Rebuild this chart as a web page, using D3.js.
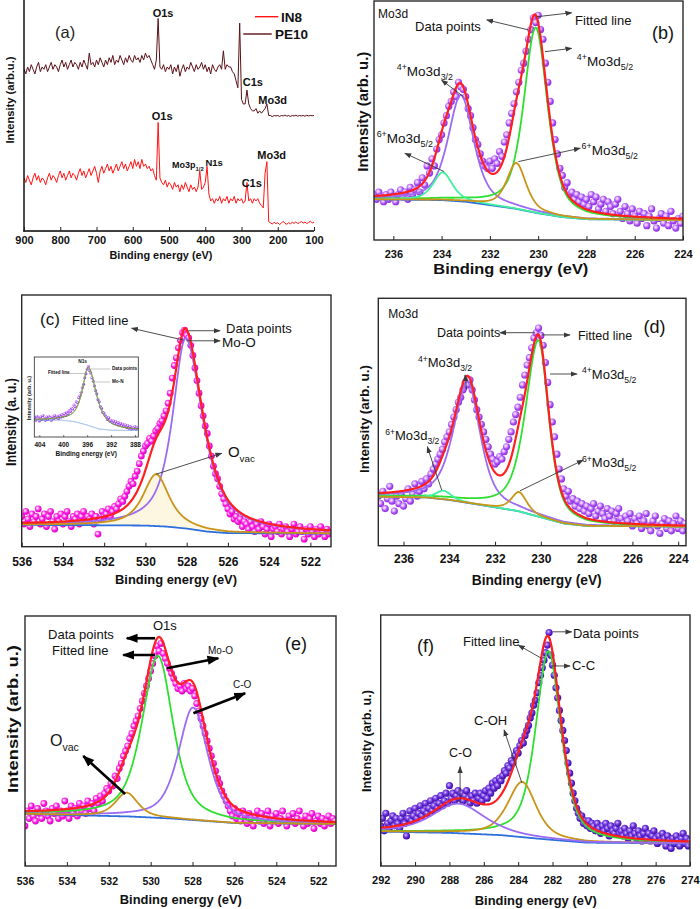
<!DOCTYPE html>
<html><head><meta charset="utf-8">
<script src="https://cdn.jsdelivr.net/npm/d3@7"></script>
<style>body{margin:0;background:#fff}svg{display:block}</style>
</head><body>
<svg id="chart" width="700" height="909"></svg>
<script>
// ================= DATA =================
// (a) survey spectra, intensity as % of panel height, every 5 eV from 900 eV
const surveyTicks = [900, 800, 700, 600, 500, 400, 300, 200, 100];
const surveyStart = 900, surveyStep = -5;
const surveyIN8 = [
  23,21,24,22,20,23,25,22,24,21,
  23,22,20,23,25,22,24,23,21,24,
  26,23,25,22,24,26,23,25,24,22,
  25,27,24,26,23,25,27,24,26,28,
  25,21,26,28,25,27,29,26,28,25,
  27,29,26,28,30,27,29,26,28,30,
  27,31,28,30,27,31,28,29,27,28,
  26,27,24,22,47,23,21,20,22,19,
  21,20,18,21,19,20,17,20,18,21,
  19,17,20,18,19,17,19,26,18,19,
  21,28,16,13,14,12,14,13,15,12,
  14,13,15,12,14,13,15,12,14,13,
  14,12,13,21,13,14,12,14,13,14,
  12,11,10,25,30,4,3.5,3,3.8,3.2,
  3.6,2.8,3.4,4.2,3.3,2.9,3.6,3.1,3.8,3.3,
  4,3.2,3.6,4.1,3.4,3.9,3.2,3.7,4.2,3.5,
  3.8];
const surveyPE10 = [
  70,68,71,69,72,70,68,71,73,69,
  71,70,72,69,71,73,70,72,71,69,
  72,74,71,73,70,72,74,71,73,72,
  70,73,71,74,72,70,77,72,73,71,
  74,72,75,73,71,74,72,75,73,76,
  72,74,73,76,74,72,75,73,76,74,
  73,76,74,75,73,76,74,77,75,76,
  74,72,70,74,92,71,70,72,69,71,
  70,72,68,71,69,72,67,70,72,69,
  71,70,73,71,69,72,70,71,73,70,
  72,69,71,68,72,70,69,71,72,70,
  78,70,72,71,71,69,68,65,62,90,
  57,55,55,61,55,53,52,52,53,51,
  52,51,52,53,55,50,50,49.5,50,49.8,
  50,49.6,50,49.8,50.2,49.7,50,49.6,50,49.8,
  50.1,49.7,50,49.8,50,49.7,50.1,49.8,50,49.9,
  50];

// (b) Mo3d
const bStart = 236.8, bStep = -0.1;
const bPoints = [
  19,17,20,18,16,19,17,20,18,16,
  19,21,18,20,17,22,19,21,24,20,
  26,23,31,28,34,31,38,42,44,49,
  52,56,58,62,60,66,64,63,60,55,
  52,47,42,40,36,33,31,30,33,30,
  34,32,37,35,41,44,49,53,57,62,
  66,71,74,79,84,88,93,91,94,88,
  84,74,66,58,49,42,36,30,27,22,
  24,19,20,17,19,16,18,15,17,14,
  19,16,18,13,15,17,12,16,14,11,
  15,17,12,9,14,11,8,13,10,7,
  12,9,11,6,10,13,8,5,9,11,
  7,10,6,12,8,5,9,7,10];
const bTicks = [236, 234, 232, 230, 228, 226, 224];
const bCenters = [233.2, 230.1, 233.95, 230.9];
const bHeights = [44.5, 77.5, 11.6, 19.2];
const bWidthHigh = [1.25, 1.17, 0.95, 0.95];
const bWidthLow = [1.25, 1.17, 0.95, 0.95];
const bBaseE = [236.8, 234, 233, 232, 231, 230, 229, 228, 224];
const bBaseY = [17, 16.7, 16, 14.6, 13.2, 11.2, 9.6, 8.7, 8.3];

// (c) O1s
const cStart = 536, cStep = -0.1;
const cPoints = [
  12,9,14,11,8,13,10,12,15,9,
  11,13,8,12,14,10,7,12,10,13,
  9,12,14,10,8,12,11,13,9,12,
  14,10,12,11,13,9,12,5,11,14,
  12,13,15,12,14,16,15,17,19,18,
  20,22,24,26,25,28,30,33,36,38,
  40,41,43,42,44,46,47,49,50,52,
  54,57,61,67,72,75,79,82,85,86,
  84,83,80,76,71,66,61,56,52,48,
  45,40,36,32,29,27,24,21,19,17,
  15,13,14,11,12,10,11,8,10,9,
  7,10,8,6,9,7,10,8,5,7,
  9,4,7,8,6,9,5,7,8,6,
  4,7,9,5,6,8,6,3,7,5,
  8,6,4,7,5,8,6,4,7,5,
  6];
const cTicks = [536, 534, 532, 530, 528, 526, 524, 522];
const cCenters = [528.05, 529.48];
const cHeights = [75.6, 20.6];
const cWidthHigh = [1.5, 1.5];
const cWidthLow = [2.0, 1.5];
const cBaseE = [536, 530, 529, 528, 527, 526, 521];
const cBaseY = [8.7, 8.4, 8.0, 7.2, 6.0, 5.4, 5.2];

// (c) inset N1s
const nStart = 404.8, nStep = -0.2;
const nPoints = [
  24,21,26,23,20,25,22,27,23,21,
  25,22,26,24,21,25,23,27,24,26,
  23,27,25,28,26,29,27,31,29,33,
  32,36,35,40,38,44,43,49,52,56,
  62,66,74,79,85,88,83,80,74,70,
  64,58,54,47,44,38,36,31,30,27,
  25,22,24,20,21,18,20,17,19,16,
  18,15,17,14,16,13,15,12,14,11,
  13,10,12,11,13,10,12];
const nTicks = [404, 400, 396, 392, 388];
const nCenters = [395.8];
const nHeights = [72.5];
const nWidthHigh = [2.4];
const nWidthLow = [3.2];
const nBaseE = [404.84, 400, 398, 396, 394, 392, 387.45];
const nBaseY = [21, 21, 19, 15, 10, 8.5, 8];

// (d) Mo3d
const dStart = 237.1, dStep = -0.1;
const dPoints = [
  20,17,22,15,19,24,18,14,20,17,
  21,16,19,23,18,21,25,20,22,26,
  23,27,25,29,31,33,35,37,39,42,
  44,46,49,52,55,58,60,63,66,65,
  67,63,59,55,52,49,46,43,40,37,
  35,33,34,36,35,38,40,43,46,50,
  53,56,60,65,69,73,76,80,84,86,
  88,85,81,74,66,57,50,44,37,31,
  27,23,20,22,18,19,16,18,15,17,
  14,16,13,15,17,12,14,16,13,11,
  15,12,14,10,13,15,11,9,12,10,
  13,8,11,9,12,7,10,13,8,6,
  10,12,8,5,9,11,7,10,6,9,
  12,7,10,6,9];
const dTicks = [236, 234, 232, 230, 228, 226, 224];
const dCenters = [233.2, 230.1, 234.25, 230.95];
const dHeights = [49, 71.35, 3.5, 7.8];
const dWidthHigh = [1.45, 1.35, 0.8, 0.8];
const dWidthLow = [1.3, 1.05, 0.8, 0.8];
const dBaseE = [237.1, 235, 234, 233, 232, 231, 230, 229, 228, 223.66];
const dBaseY = [19.8, 19.5, 18.5, 17, 15.5, 14, 11.5, 9, 8, 7.7];

// (e) O1s
const eStart = 536, eStep = -0.1;
const ePoints = [
  16,22,19,24,20,18,23,21,19,25,
  22,20,18,23,21,24,19,22,20,26,
  22,19,24,21,23,20,25,22,24,21,
  26,23,25,22,27,25,28,26,29,31,
  30,33,32,36,35,39,41,44,46,48,
  51,53,56,58,60,63,66,69,72,75,
  78,81,84,88,86,89,85,83,81,79,
  77,75,73,71,72,70,73,71,72,70,
  71,68,65,62,59,56,53,50,47,44,
  41,38,35,33,30,28,26,24,22,20,
  23,19,21,18,22,20,17,21,19,16,
  20,22,18,21,17,19,22,16,20,18,
  21,17,19,22,18,16,20,18,21,17,
  19,22,18,16,20,17,19,21,15,18,
  20,17,19,16,18,20,17,19,18];
const eTicks = [536, 534, 532, 530, 528, 526, 524, 522];
const eCenters = [529.65, 527.97, 531.15];
const eHeights = [64.8, 45, 9.5];
const eWidthHigh = [1.8, 1.67, 1.27];
const eWidthLow = [1.7, 1.67, 1.27];
const eBaseE = [536, 531, 529, 527, 526, 521.15];
const eBaseY = [20.8, 19.8, 19, 17.8, 17.2, 16.8];

// (f) C1s
const fStart = 292, fStep = -0.1;
const fPoints = [
  16,19,14,21,17,15,18,20,16,19,
  17,15,19,21,17,12,19,22,18,20,
  23,19,21,24,20,22,25,21,23,26,
  22,24,27,23,25,28,24,26,29,25,
  32,27,29,26,28,30,27,29,26,28,
  30,27,25,28,26,29,25,27,29,26,
  28,30,27,31,29,33,31,34,32,35,
  34,36,38,37,40,39,42,41,44,46,
  45,48,50,49,52,54,56,59,61,64,
  66,69,73,76,79,82,85,88,93,84,
  80,76,71,67,62,58,54,50,46,41,
  37,33,29,26,23,21,19,20,17,18,
  16,18,15,17,16,14,17,15,13,16,
  14,17,15,12,16,14,13,15,17,13,
  14,12,15,13,11,14,12,16,13,11,
  14,12,10,13,15,11,13,10,12,14,
  11,9,12,10,13,11,8,12,10,7,
  11,9,12,10,8,11,13,9,11,8,
  10];
const fTicks = [292, 290, 288, 286, 284, 282, 280, 278, 276, 274];
const fCenters = [282.24, 283.76, 287.48];
const fHeights = [75, 22, 11.8];
const fWidthHigh = [1.75, 2.0, 3.6];
const fWidthLow = [1.75, 1.9, 3.6];
const fBaseE = [292, 288, 285, 283, 282, 280, 274];
const fBaseY = [13.7, 13.2, 12.3, 11, 10.4, 9.3, 9];

// ================= STYLE =================
const FONT = '"Liberation Sans", Arial, Helvetica, sans-serif';
const COL = { red: '#ff1f1f', purple: '#9b6bf3', green: '#2fdf2f', lgreen: '#3ff0a0',
  gold: '#c8941a', blue: '#2d6fdc', frame: '#2a2a2a', arrow: '#3a3a3a' };

const svg = d3.select('#chart');
const defs = svg.append('defs');
function sphere(id, stops) {
  const gr = defs.append('radialGradient').attr('id', id).attr('cx', '40%').attr('cy', '38%').attr('r', '62%');
  stops.forEach(([o, c]) => gr.append('stop').attr('offset', o).attr('stop-color', c));
}
sphere('gMag', [['0%', '#ffffff'], ['22%', '#ffb0f4'], ['55%', '#ff22e2'], ['100%', '#d600c2']]);
sphere('gPur', [['0%', '#f7eeff'], ['30%', '#dcb0ff'], ['65%', '#a84cf4'], ['100%', '#8a2ee0']]);
sphere('gVio', [['0%', '#e2d4ff'], ['28%', '#9566f2'], ['65%', '#5a22cc'], ['100%', '#3f12a4']]);
function arrowMarker(id, color, size) {
  defs.append('marker').attr('id', id).attr('viewBox', '0 0 10 10').attr('refX', 9).attr('refY', 5)
    .attr('markerWidth', size).attr('markerHeight', size).attr('markerUnits', 'userSpaceOnUse').attr('orient', 'auto')
    .append('path').attr('d', 'M0,1.2 L10,5 L0,8.8 Z').attr('fill', color);
}
arrowMarker('ahG', COL.arrow, 7);
arrowMarker('ahB', '#000', 12);

function pv(e, c, h, wHi, wLo, m) {
  const w = e >= c ? wHi : wLo;
  const u = (e - c) / w;
  return h * (m / (1 + 4 * u * u) + (1 - m) * Math.exp(-4 * Math.LN2 * u * u));
}

function makePanel(p) {
  const x = d3.scaleLinear().domain(p.domain).range([p.left, p.right]);
  const y = d3.scaleLinear().domain([0, 100]).range([p.bottom, p.top]);
  const g = svg.append('g');
  if (p.bg) g.append('rect').attr('x', p.left).attr('y', p.top).attr('width', p.right - p.left).attr('height', p.bottom - p.top).attr('fill', '#fff');
  defs.append('clipPath').attr('id', 'clip-' + p.id).append('rect')
    .attr('x', p.left).attr('y', p.top).attr('width', p.right - p.left).attr('height', p.bottom - p.top);
  const plot = g.append('g').attr('clip-path', `url(#clip-${p.id})`);
  return { x, y, g, plot, p };
}

function xAxis(P, ticks, tickLen, pad, fs) {
  const ax = d3.axisBottom(P.x).tickValues(ticks).tickSize(-tickLen).tickPadding(pad).tickFormat(d3.format('d'));
  const a = P.g.append('g').attr('transform', `translate(0,${P.p.bottom})`).call(ax);
  a.select('.domain').remove();
  a.selectAll('line').attr('stroke', '#222').attr('stroke-width', P.p.inset ? 0.6 : 1);
  a.selectAll('text').attr('font-family', FONT).attr('font-weight', 'bold').attr('font-size', fs).attr('fill', '#111');
}

function frame(P, w) {
  const p = P.p;
  P.g.append('rect').attr('x', p.left).attr('y', p.top).attr('width', p.right - p.left).attr('height', p.bottom - p.top)
    .attr('fill', 'none').attr('stroke', COL.frame).attr('stroke-width', w);
}

function label(g, x, y, str, size, opts = {}) {
  const t = g.append('text').attr('x', x).attr('y', y).attr('font-family', FONT).attr('font-size', size)
    .attr('fill', opts.fill || '#111').text(str);
  if (opts.bold) t.attr('font-weight', 'bold');
  if (opts.anchor) t.attr('text-anchor', opts.anchor);
  if (opts.len) t.attr('textLength', opts.len).attr('lengthAdjust', 'spacingAndGlyphs');
  return t;
}
function yLabel(g, cx, cy, str, size, len) {
  const t = g.append('text').attr('transform', `translate(${cx},${cy}) rotate(-90)`).attr('text-anchor', 'middle')
    .attr('dy', '0.35em').attr('font-family', FONT).attr('font-weight', 'bold').attr('font-size', size).attr('fill', '#111').text(str);
  if (len) t.attr('textLength', len).attr('lengthAdjust', 'spacingAndGlyphs');
}
function rich(g, x, y, parts, size) {
  const t = g.append('text').attr('x', x).attr('y', y).attr('font-family', FONT).attr('fill', '#111');
  let shift = 0;
  parts.forEach(([s, kind]) => {
    let target = 0, fs = size;
    if (kind === 'sup') { target = -0.42 * size; fs = 0.66 * size; }
    if (kind === 'sub') { target = 0.3 * size; fs = 0.66 * size; }
    t.append('tspan').attr('font-size', fs).attr('dy', target - shift).text(s);
    shift = target;
  });
  return t;
}
function arrow(P, e1, v1, e2, v2, black) {
  P.g.append('line').attr('x1', P.x(e1)).attr('y1', P.y(v1)).attr('x2', P.x(e2)).attr('y2', P.y(v2))
    .attr('stroke', black ? '#000' : COL.arrow).attr('stroke-width', black ? 2.6 : 0.9)
    .attr('marker-end', black ? 'url(#ahB)' : 'url(#ahG)');
}

function drawFit(P, cfg) {
  const { x, y, plot } = P;
  const base = d3.scaleLinear().domain(cfg.baseE).range(cfg.baseY).clamp(true);
  const pts = cfg.points.map((v, i) => [cfg.start + cfg.step * i, v]);
  plot.append('g').selectAll('circle').data(pts).join('circle')
    .attr('cx', d => x(d[0])).attr('cy', d => y(d[1])).attr('r', cfg.r).attr('fill', `url(#${cfg.grad})`);
  const n = 600, [e0, e1] = P.x.domain();
  const grid = d3.range(n + 1).map(i => e0 + (e1 - e0) * i / n);
  const peakAt = (e, k) => pv(e, cfg.centers[k], cfg.heights[k], cfg.wHigh[k], cfg.wLow[k], cfg.mix);
  const line = d3.line().x(d => x(d[0])).y(d => y(d[1]));
  if (cfg.fillIdx != null) {
    const k = cfg.fillIdx;
    const area = d3.area().x(d => x(d[0])).y0(d => y(base(d[0]))).y1(d => y(base(d[0]) + peakAt(d[0], k)));
    plot.append('path').datum(grid.map(e => [e])).attr('d', area).attr('fill', cfg.fillColor).attr('opacity', 0.55);
  }
  plot.append('path').datum(grid.map(e => [e, base(e)])).attr('d', line)
    .attr('fill', 'none').attr('stroke', cfg.baseColor || COL.blue).attr('stroke-width', cfg.lw);
  cfg.centers.forEach((c, k) => {
    plot.append('path').datum(grid.map(e => [e, base(e) + peakAt(e, k)])).attr('d', line)
      .attr('fill', 'none').attr('stroke', cfg.colors[k]).attr('stroke-width', cfg.lw);
  });
  plot.append('path').datum(grid.map(e => [e, base(e) + d3.sum(cfg.centers, (c, k) => peakAt(e, k))])).attr('d', line)
    .attr('fill', 'none').attr('stroke', cfg.fitColor || COL.red).attr('stroke-width', cfg.lwFit || cfg.lw + 0.3);
}

// ================= PANEL (a) =================
{
  const P = makePanel({ id: 'a', left: 24, right: 314, top: 0, bottom: 231, domain: [900, 100] });
  const line = d3.line().x(d => P.x(d[0])).y(d => P.y(d[1]));
  const pe = surveyPE10.map((v, i) => [surveyStart + surveyStep * i, v]);
  const inn = surveyIN8.map((v, i) => [surveyStart + surveyStep * i, v]);
  P.plot.append('path').datum(pe).attr('d', line).attr('fill', 'none').attr('stroke', '#5c1018').attr('stroke-width', 1);
  P.plot.append('path').datum(inn).attr('d', line).attr('fill', 'none').attr('stroke', '#ff1414').attr('stroke-width', 1);
  P.g.append('line').attr('x1', 24).attr('x2', 24).attr('y1', 0).attr('y2', 231.5).attr('stroke', '#000').attr('stroke-width', 1.4);
  P.g.append('line').attr('x1', 23.3).attr('x2', 314).attr('y1', 231).attr('y2', 231).attr('stroke', '#000').attr('stroke-width', 1.4);
  xAxis(P, surveyTicks, 4, 5, 11);
  label(P.g, 161, 258.5, 'Binding energy (eV)', 11, { bold: true, anchor: 'middle', len: 103 });
  yLabel(P.g, 10, 100, 'Intensity (arb.u.)', 10, 87);
  label(P.g, P.x(814.5), P.y(83.5), '(a)', 16.5, { fill: '#222' });
  // legend
  P.g.append('line').attr('x1', 255).attr('x2', 278.3).attr('y1', 16.7).attr('y2', 16.7).attr('stroke', '#ff1414').attr('stroke-width', 1.4);
  label(P.g, 281, 21.5, 'IN8', 13.5, { bold: true });
  P.g.append('line').attr('x1', 243.3).attr('x2', 271.7).attr('y1', 34).attr('y2', 34).attr('stroke', '#5c1018').attr('stroke-width', 1.4);
  label(P.g, 275, 39, 'PE10', 13.5, { bold: true });
  const pl = (e, v, s, fs) => label(P.g, P.x(e), P.y(v), s, fs, { bold: true });
  pl(545, 92.6, 'O1s', 11); pl(296.7, 62.8, 'C1s', 11); pl(253.6, 55, 'Mo3d', 11);
  pl(547.7, 48, 'O1s', 11); pl(299.5, 19, 'C1s', 11); pl(256.4, 31.2, 'Mo3d', 11);
  const t = rich(P.g, P.x(491.7), P.y(27.3), [['Mo3p'], ['1/2', 'sub']], 9); t.attr('font-weight', 'bold');
  pl(399.5, 28.1, 'N1s', 9.5);
}

// ================= PANEL (b) =================
{
  const P = makePanel({ id: 'b', left: 374, right: 683, top: 1, bottom: 240, domain: [236.8, 224] });
  drawFit(P, { points: bPoints, start: bStart, step: bStep, r: 3.6, grad: 'gPur', centers: bCenters, heights: bHeights,
    wHigh: bWidthHigh, wLow: bWidthLow, mix: 0.6, baseE: bBaseE, baseY: bBaseY,
    colors: [COL.purple, COL.green, COL.lgreen, COL.gold], lw: 1.8, lwFit: 2.2 });
  frame(P, 1.4);
  xAxis(P, bTicks, 4, 10, 11);
  label(P.g, 510.8, 274, 'Binding energy (eV)', 15.5, { bold: true, anchor: 'middle', len: 155 });
  yLabel(P.g, 362.5, 111.7, 'Intensity (arb. u.)', 14.5, 120);
  const L = (e, v, s, fs) => label(P.g, P.x(e), P.y(v), s, fs);
  L(236.63, 92.9, 'Mo3d', 12);
  L(235.1, 87.4, 'Data points', 13);
  L(228.47, 90, 'Fitted line', 13);
  L(225.28, 84.1, '(b)', 18);
  rich(P.g, P.x(235.86), P.y(68.6), [['4+', 'sup'], ['Mo3d'], ['3/2', 'sub']], 13.5);
  rich(P.g, P.x(236.69), P.y(40.6), [['6+', 'sup'], ['Mo3d'], ['5/2', 'sub']], 13.5);
  rich(P.g, P.x(228.4), P.y(72.8), [['4+', 'sup'], ['Mo3d'], ['5/2', 'sub']], 13.5);
  rich(P.g, P.x(228.2), P.y(35.6), [['6+', 'sup'], ['Mo3d'], ['5/2', 'sub']], 13.5);
  arrow(P, 230.4, 87.9, 232.13, 92.1);
  arrow(P, 230.06, 93.4, 228.61, 95.1);
  arrow(P, 229.72, 78.8, 228.61, 80.2);
  arrow(P, 233.1, 60, 234.0, 66.9);
  arrow(P, 233.89, 28.6, 235.52, 36.3);
  arrow(P, 230.82, 32.8, 228.26, 38.4);
}

// ================= PANEL (c) =================
{
  const P = makePanel({ id: 'c', left: 21.7, right: 331, top: 295, bottom: 546.7, domain: [536, 521] });
  drawFit(P, { points: cPoints, start: cStart, step: cStep, r: 3.4, grad: 'gMag', centers: cCenters, heights: cHeights,
    wHigh: cWidthHigh, wLow: cWidthLow, mix: 0.8, baseE: cBaseE, baseY: cBaseY,
    colors: [COL.purple, COL.gold], lw: 1.8, lwFit: 2.2, fillIdx: 1, fillColor: '#fbefc9' });
  frame(P, 1.4);
  xAxis(P, cTicks, 4, 11, 12);
  label(P.g, 176, 583.5, 'Binding energy (eV)', 13.5, { bold: true, anchor: 'middle', len: 122 });
  yLabel(P.g, 11, 422, 'Intensity (a. u.)', 14, 88);
  const L = (e, v, s, fs) => label(P.g, P.x(e), P.y(v), s, fs);
  L(535.11, 88.1, '(c)', 17);
  L(533.56, 88.1, 'Fitted line', 13);
  L(526.09, 84.9, 'Data points', 13);
  L(526.29, 79.3, 'Mo-O', 13.5);
  rich(P.g, P.x(526.0), P.y(35.6), [['O'], ['vac', 'sub']], 15);
  arrow(P, 528.16, 82.1, 530.67, 86.8);
  arrow(P, 527.92, 85.8, 526.38, 85.8);
  arrow(P, 528.0, 81.8, 526.38, 81.8);
  arrow(P, 529.49, 28.8, 526.3, 37.1);

  // inset N1s
  const Q = makePanel({ id: 'n', left: 34.3, right: 138.3, top: 357, bottom: 437, domain: [404.84, 387.45], bg: true, inset: true });
  drawFit(Q, { points: nPoints, start: nStart, step: nStep, r: 1.5, grad: 'gPur', centers: nCenters, heights: nHeights,
    wHigh: nWidthHigh, wLow: nWidthLow, mix: 0.8, baseE: nBaseE, baseY: nBaseY,
    colors: ['#6f9a3a'], lw: 0.9, lwFit: 1.0, fitColor: '#7aa048', baseColor: '#7ea6da' });
  frame(Q, 0.8);
  xAxis(Q, nTicks, 2, 5, 6.5);
  label(Q.g, 86.3, 456, 'Binding energy (eV)', 6.5, { bold: true, anchor: 'middle' });
  yLabel(Q.g, 29, 398, 'Intensity (arb. u.)', 5.5);
  const N = (e, v, s, fs, b) => label(Q.g, Q.x(e), Q.y(v), s, fs, { bold: b });
  N(397.5, 92.5, 'N1s', 4.8, true);
  N(402.55, 78.75, 'Fitted line', 4.6, true);
  N(391.85, 83.75, 'Data points', 4.6, true);
  N(391.85, 67.5, 'Mo-N', 4.6, true);
  const seg = (e1, e2, v) => Q.g.append('line').attr('x1', Q.x(e1)).attr('x2', Q.x(e2)).attr('y1', Q.y(v)).attr('y2', Q.y(v)).attr('stroke', '#888').attr('stroke-width', 0.5);
  seg(399.87, 396.2, 79.4); seg(395.69, 392.18, 85); seg(395.19, 392.18, 68.75);
}

// ================= PANEL (d) =================
{
  const P = makePanel({ id: 'd', left: 378.3, right: 686, top: 298.3, bottom: 545.7, domain: [237.1, 223.66] });
  drawFit(P, { points: dPoints, start: dStart, step: dStep, r: 3.6, grad: 'gPur', centers: dCenters, heights: dHeights,
    wHigh: dWidthHigh, wLow: dWidthLow, mix: 0.6, baseE: dBaseE, baseY: dBaseY,
    colors: [COL.purple, COL.green, COL.lgreen, COL.gold], lw: 1.8, lwFit: 2.2 });
  frame(P, 1.4);
  xAxis(P, dTicks, 4, 9, 12);
  label(P.g, 536.7, 585, 'Binding energy (eV)', 14, { bold: true, anchor: 'middle', len: 130 });
  yLabel(P.g, 364, 419, 'Intensity (arb. u.)', 13.5, 108);
  const L = (e, v, s, fs) => label(P.g, P.x(e), P.y(v), s, fs);
  L(236.67, 92, 'Mo3d', 12);
  L(225.52, 86, '(d)', 18);
  L(234.54, 84.4, 'Data points', 12.5);
  L(228.38, 83.1, 'Fitted line', 12.5);
  rich(P.g, P.x(235.37), P.y(72.2), [['4+', 'sup'], ['Mo3d'], ['3/2', 'sub']], 13);
  rich(P.g, P.x(228.2), P.y(67.4), [['4+', 'sup'], ['Mo3d'], ['5/2', 'sub']], 13);
  rich(P.g, P.x(236.8), P.y(42.7), [['6+', 'sup'], ['Mo3d'], ['3/2', 'sub']], 13);
  rich(P.g, P.x(228.2), P.y(31.8), [['6+', 'sup'], ['Mo3d'], ['5/2', 'sub']], 13);
  arrow(P, 230.26, 86.1, 231.79, 86.1);
  arrow(P, 229.96, 85.2, 228.73, 85.2);
  arrow(P, 233.24, 62.9, 233.31, 69);
  arrow(P, 229.6, 69.4, 228.42, 69.4);
  arrow(P, 234.33, 22.5, 234.96, 40);
  arrow(P, 230.91, 22.2, 228.15, 34.6);
}

// ================= PANEL (e) =================
{
  const P = makePanel({ id: 'e', left: 25, right: 336, top: 616, bottom: 866, domain: [536, 521.15] });
  drawFit(P, { points: ePoints, start: eStart, step: eStep, r: 3.4, grad: 'gMag', centers: eCenters, heights: eHeights,
    wHigh: eWidthHigh, wLow: eWidthLow, mix: 0.6, baseE: eBaseE, baseY: eBaseY,
    colors: [COL.green, COL.purple, COL.gold], lw: 1.8, lwFit: 2.2 });
  frame(P, 1.4);
  xAxis(P, eTicks, 4, 11.5, 10.5);
  label(P.g, 180.8, 904, 'Binding energy (eV)', 13.5, { bold: true, anchor: 'middle', len: 122 });
  yLabel(P.g, 13.3, 719, 'Intensity (arb. u.)', 14, 148);
  const L = (e, v, s, fs) => label(P.g, P.x(e), P.y(v), s, fs);
  L(529.89, 94.4, 'O1s', 13);
  L(534.9, 90.8, 'Data points', 13);
  L(534.71, 84.4, 'Fitted line', 13);
  L(523.58, 86.4, '(e)', 18);
  L(527.26, 84.8, 'Mo-O', 10);
  L(526.07, 71.2, 'C-O', 10);
  rich(P.g, P.x(534.81), P.y(48), [['O'], ['vac', 'sub']], 16);
  arrow(P, 529.79, 91.1, 531.14, 91.1, true);
  arrow(P, 529.79, 84.4, 531.31, 84.4, true);
  arrow(P, 529.23, 79.1, 526.77, 83.1, true);
  arrow(P, 527.96, 61.1, 525.49, 69.1, true);
  arrow(P, 531.22, 28.8, 533.22, 44, true);
}

// ================= PANEL (f) =================
{
  const P = makePanel({ id: 'f', left: 380.7, right: 690, top: 615, bottom: 866, domain: [292, 274] });
  drawFit(P, { points: fPoints, start: fStart, step: fStep, r: 3.6, grad: 'gVio', centers: fCenters, heights: fHeights,
    wHigh: fWidthHigh, wLow: fWidthLow, mix: 0.6, baseE: fBaseE, baseY: fBaseY,
    colors: [COL.green, COL.gold, COL.purple], lw: 1.8, lwFit: 2.2 });
  frame(P, 1.4);
  xAxis(P, fTicks, 4, 10, 11);
  label(P.g, 535.8, 905, 'Binding energy (eV)', 13.5, { bold: true, anchor: 'middle', len: 122 });
  yLabel(P.g, 366.7, 741, 'Intensity (arb. u.)', 13, 102);
  const L = (e, v, s, fs) => label(P.g, P.x(e), P.y(v), s, fs);
  L(289.89, 85.3, '(f)', 18);
  L(287.21, 87.6, 'Fitted line', 13);
  L(280.81, 90.8, 'Data points', 13);
  L(280.87, 78.1, 'C-C', 13);
  L(286.57, 56.2, 'C-OH', 13);
  L(288.02, 43.4, 'C-O', 12.5);
  arrow(P, 281.99, 93.3, 280.88, 93.3);
  arrow(P, 282.63, 82.7, 283.99, 88);
  arrow(P, 282.05, 79.7, 280.98, 79.7);
  arrow(P, 283.79, 33.2, 284.82, 54.2);
  arrow(P, 287.38, 25, 287.38, 39.6);
}
</script>
</body></html>
